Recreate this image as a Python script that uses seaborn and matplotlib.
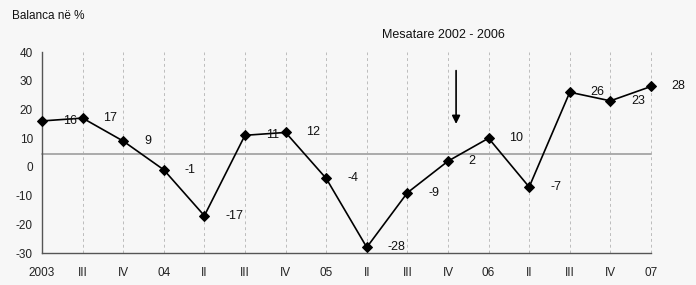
import matplotlib.pyplot as plt
import seaborn as sns
import pandas as pd

# tremujoret dhe balanca ne %
periudhat = ['2003', 'III', 'IV', '04', 'II', 'III', 'IV', '05',
             'II', 'III', 'IV', '06', 'II', 'III', 'IV', '07']
balanca = [16, 17, 9, -1, -17, 11, 12, -4, -28, -9, 2, 10, -7, 26, 23, 28]
mesatare = 4.4  # mesatare 2002 - 2006

df = pd.DataFrame({'poz': range(len(periudhat)), 'balanca': balanca})

sns.set_style('white')
plt.rcParams['font.family'] = ['Liberation Sans', 'DejaVu Sans']
plt.rcParams['axes.unicode_minus'] = False

fig = plt.figure(figsize=(6.96, 2.85), dpi=100, facecolor='#f7f7f7')
ax = fig.add_axes([0.0603, 0.112, 0.875, 0.7055])
ax.set_facecolor('#f7f7f7')

# vija vertikale me nderprerje
for p in df['poz']:
    ax.axvline(p, color='#bdbdbd', lw=0.7, ls=(0, (3, 3)), zorder=1)

ax.axhline(mesatare, color='#aaaaaa', lw=1.4, zorder=2)

sns.lineplot(data=df, x='poz', y='balanca', color='black', lw=1.2,
             marker='D', markersize=5.5, markeredgecolor='black', ax=ax, zorder=3)
for ln in ax.lines:
    ln.set_clip_on(False)

for p, v in zip(df['poz'], balanca):
    ax.annotate(str(v), (p, v), xytext=(15, 0), textcoords='offset points',
                ha='left', va='center', fontsize=9, color='#111111')

ax.set_xlim(0, len(periudhat) - 1)
ax.set_ylim(-30, 40)
ax.set_yticks(range(-30, 41, 10))
ax.set_xticks(df['poz'])
ax.set_xticklabels(periudhat)
ax.set_xlabel('')
ax.set_ylabel('')
ax.tick_params(axis='both', labelsize=8.5, colors='#222222', length=3, width=0.8,
               color='#555555', direction='out')
ax.tick_params(axis='x', pad=7)

for s in ['top', 'right']:
    ax.spines[s].set_visible(False)
for s in ['left', 'bottom']:
    ax.spines[s].set_color('#555555')
    ax.spines[s].set_linewidth(1.0)

fig.text(0.017, 0.935, 'Balanca në %', fontsize=8.5, color='#111111')
ax.text(9.9, 46, 'Mesatare 2002 - 2006', fontsize=9, ha='center', va='center',
        color='#111111', clip_on=False)
ax.annotate('', xy=(10.2, 14), xytext=(10.2, 34.5),
            arrowprops=dict(arrowstyle='-|>', color='black', lw=1.2,
                            mutation_scale=12))

fig.savefig('out.png', dpi=100, facecolor=fig.get_facecolor())
